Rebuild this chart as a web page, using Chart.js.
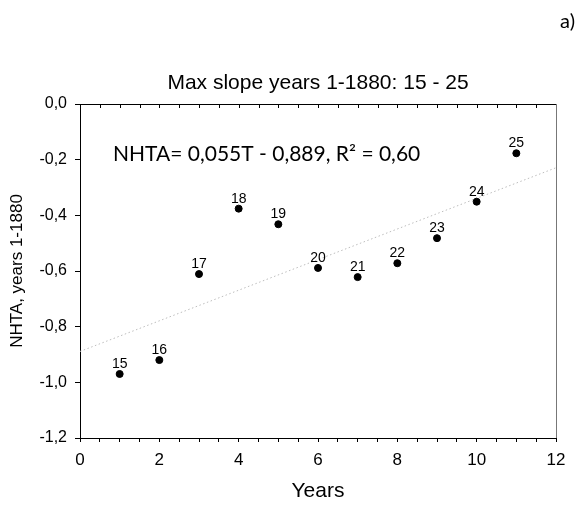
<!DOCTYPE html>
<html>
<head>
<meta charset="utf-8">
<script src="https://cdn.jsdelivr.net/npm/chart.js@4/dist/chart.umd.min.js"></script>
<style>
html,body{margin:0;padding:0;background:#fff;}
#wrap{width:577px;height:507px;position:relative;}
</style>
</head>
<body>
<div id="wrap"><canvas id="c"></canvas></div>
<script>
// ---- data ----
const years = [1, 2, 3, 4, 5, 6, 7, 8, 9, 10, 11];
const nhta = [-0.970, -0.920, -0.611, -0.376, -0.432, -0.589, -0.622, -0.572, -0.482, -0.351, -0.177];
const pointLabels = ['15', '16', '17', '18', '19', '20', '21', '22', '23', '24', '25'];
const trendSlope = [0.055];
const trendIntercept = [-0.889];
const trendRange = [0, 12];
const chartTitle = 'Max slope years 1-1880: 15 - 25';
const equationText = 'NHTA= 0,055T - 0,889, R\u00B2 = 0,60';
const panelLabel = 'a)';
const xTitle = 'Years';
const yTitle = 'NHTA, years 1-1880';

const SANS = '"Liberation Sans", Arial, sans-serif';
const CAL = 'Lato, "Open Sans", sans-serif';

const points = years.map((x, i) => ({x: x, y: nhta[i]}));
const trend = trendRange.map(x => ({x: x, y: trendIntercept[0] + trendSlope[0] * x}));

const fmtY = v => {
  const s = Number(v).toFixed(1).replace('.', ',');
  return s === '-0,0' ? '0,0' : s;
};

const decor = {
  id: 'decor',
  afterDatasetsDraw(chart) {
    const {ctx, chartArea: a, scales} = chart;
    ctx.save();
    // point labels
    const meta = chart.getDatasetMeta(1);
    ctx.font = '14px ' + SANS;
    ctx.fillStyle = '#000';
    ctx.textAlign = 'center';
    ctx.textBaseline = 'alphabetic';
    meta.data.forEach((el, i) => {
      ctx.fillText(pointLabels[i], el.x, el.y - 6);
    });
    // frame: top and right
    ctx.strokeStyle = '#000';
    ctx.lineWidth = 1;
    ctx.beginPath();
    ctx.moveTo(a.left, Math.round(a.top) + 0.5);
    ctx.lineTo(a.right, Math.round(a.top) + 0.5);
    ctx.stroke();
    const xs = scales.x;
    ctx.beginPath();
    for (let v = 0.5; v < 12; v += 0.5) {
      const px = Math.round(xs.getPixelForValue(v)) + 0.5;
      ctx.moveTo(px, a.top);
      ctx.lineTo(px, a.top + 4);
    }
    ctx.stroke();
    ctx.strokeStyle = '#777';
    ctx.beginPath();
    ctx.moveTo(Math.round(a.right) + 0.5, a.top);
    ctx.lineTo(Math.round(a.right) + 0.5, a.bottom);
    ctx.stroke();
    // chart title, centred over the plot area
    ctx.font = '21px ' + SANS;
    ctx.textAlign = 'center';
    ctx.textBaseline = 'middle';
    ctx.fillText(chartTitle, (a.left + a.right) / 2, a.top - 21);
    // equation
    ctx.font = '21px ' + CAL;
    ctx.textAlign = 'left';
    ctx.textBaseline = 'middle';
    ctx.fillText(equationText, 113, 154);
    // panel label
    ctx.font = '20px ' + CAL;
    ctx.textAlign = 'right';
    ctx.fillText(panelLabel, 575, 22);
    ctx.restore();
  }
};

new Chart(document.getElementById('c'), {
  type: 'scatter',
  data: {
    datasets: [
      {
        type: 'line',
        data: trend,
        borderColor: '#bdbdbd',
        borderWidth: 1,
        borderDash: [1.5, 2.5],
        pointRadius: 0,
        fill: false,
        order: 2
      },
      {
        data: points,
        backgroundColor: '#000',
        borderColor: '#000',
        pointRadius: 3.5,
        pointHoverRadius: 3.5,
        order: 1
      }
    ]
  },
  options: {
    responsive: true,
    maintainAspectRatio: false,
    animation: false,
    events: [],
    layout: {padding: {top: 104, right: 21, bottom: 0, left: 0}},
    plugins: {
      legend: {display: false},
      tooltip: {enabled: false},
      title: {display: false}
    },
    scales: {
      x: {
        type: 'linear',
        min: 0,
        max: 12,
        afterFit: s => { s.height = 69; },
        border: {display: true, color: '#000', width: 1},
        grid: {drawOnChartArea: false, drawTicks: true, tickLength: 4, tickColor: '#000'},
        ticks: {
          stepSize: 0.5,
          autoSkip: false,
          maxRotation: 0,
          padding: 8,
          color: '#000',
          font: {family: SANS, size: 17},
          callback: v => (v % 2 === 0 ? String(v) : '')
        },
        title: {
          display: true,
          text: xTitle,
          color: '#000',
          font: {family: SANS, size: 21},
          padding: {top: 0, bottom: 3}
        }
      },
      y: {
        type: 'linear',
        min: -1.2,
        max: 0,
        afterFit: s => { s.width = 80; },
        border: {display: true, color: '#000', width: 1},
        grid: {drawOnChartArea: false, drawTicks: true, tickLength: 5, tickColor: '#000'},
        ticks: {
          stepSize: 0.2,
          padding: 8,
          color: '#000',
          font: {family: SANS, size: 16},
          callback: v => fmtY(v)
        },
        title: {
          display: true,
          text: yTitle,
          color: '#000',
          font: {family: SANS, size: 17},
          padding: {top: 7, bottom: 0}
        }
      }
    }
  },
  plugins: [decor]
});
</script>
</body>
</html>
